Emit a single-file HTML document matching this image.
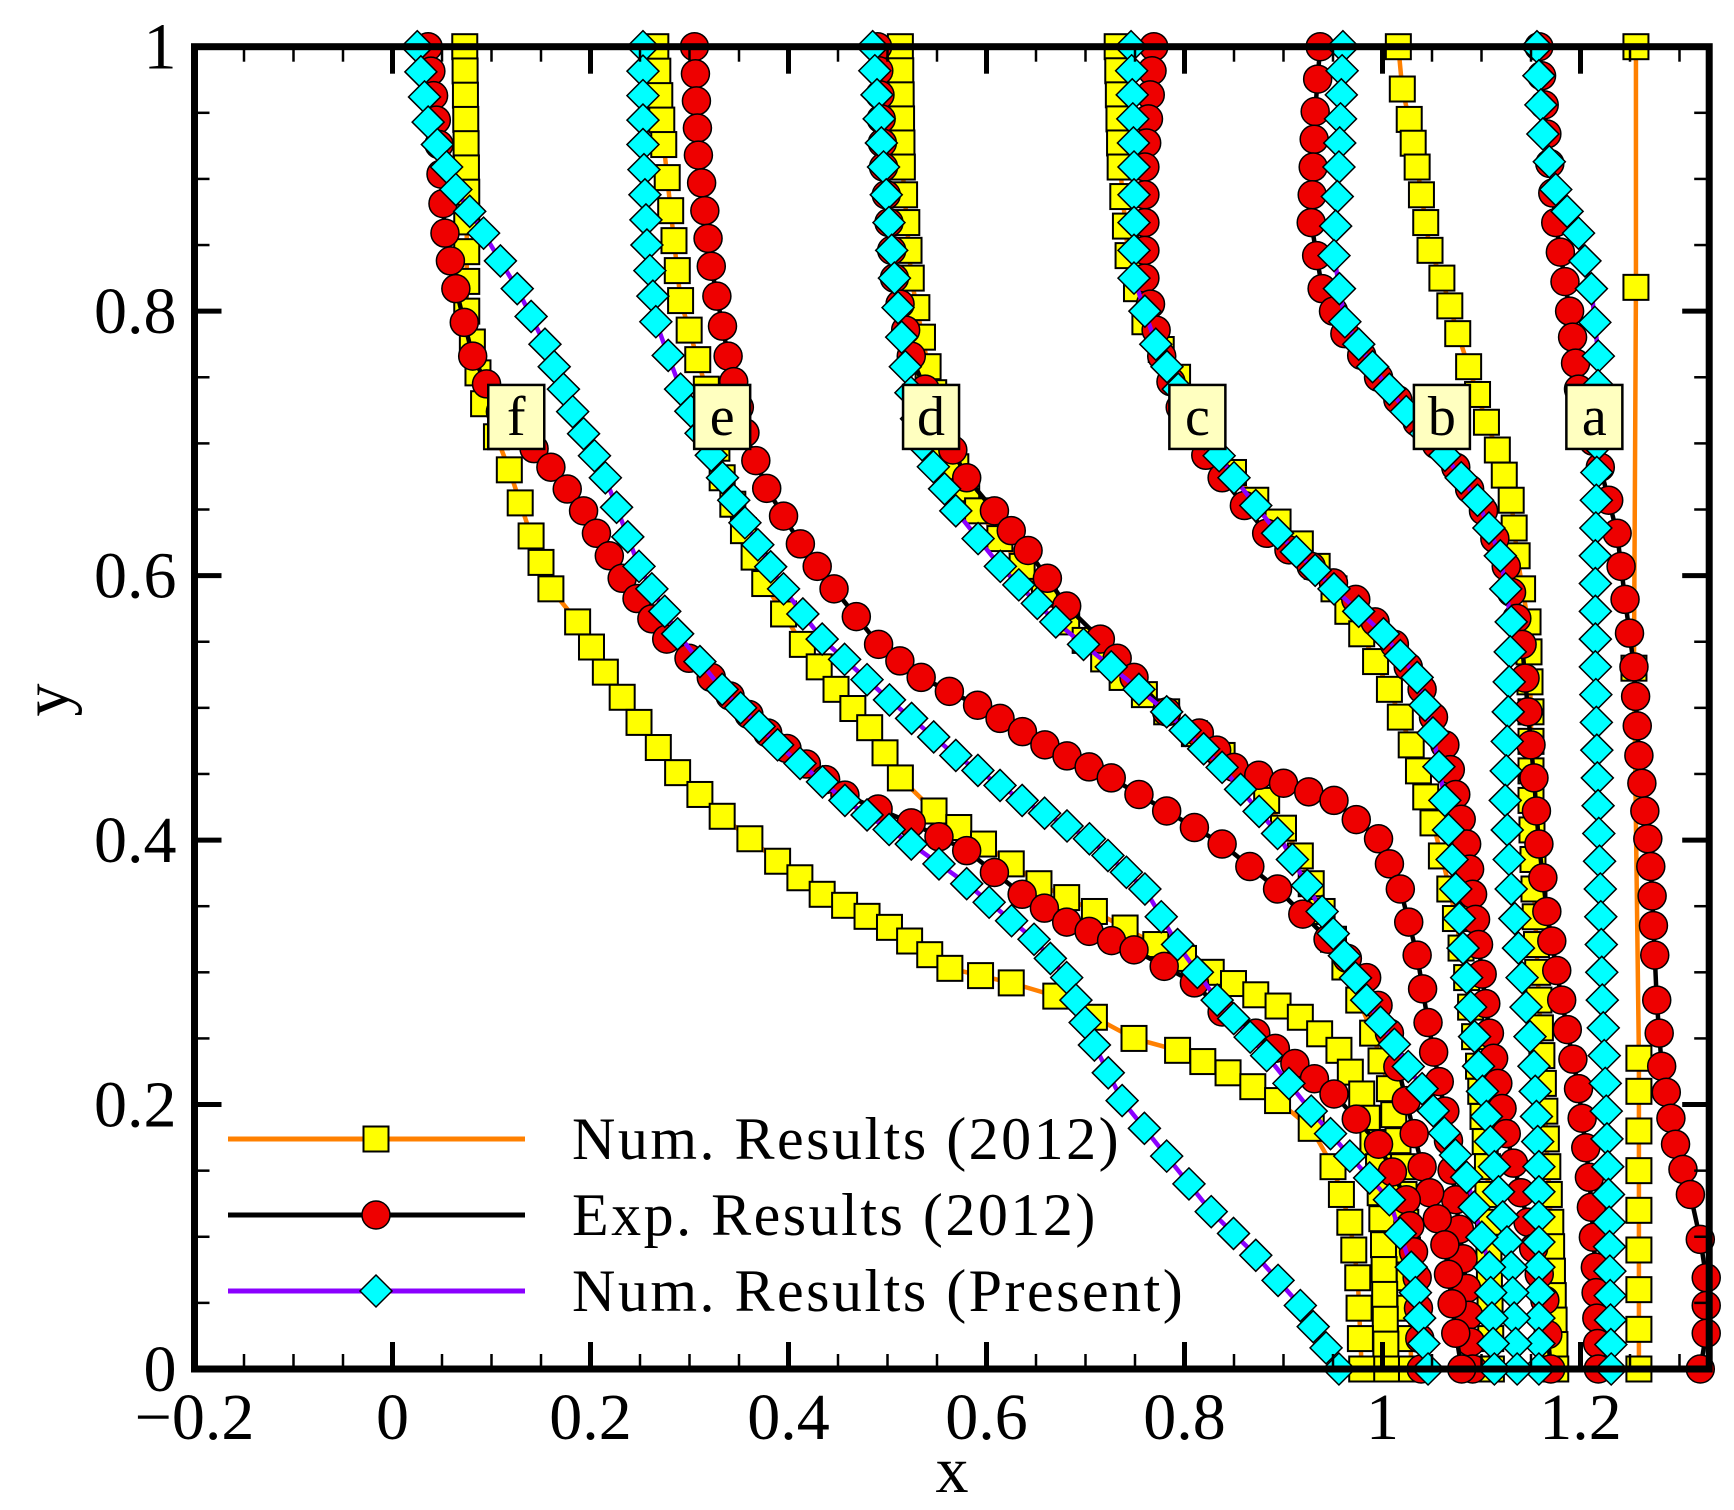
<!DOCTYPE html>
<html><head><meta charset="utf-8"><style>
html,body{margin:0;padding:0;background:#fff;}
svg{display:block;font-family:"Liberation Serif",serif;}
</style></head><body>
<svg id="chart" width="1734" height="1510" viewBox="0 0 1734 1510" xmlns="http://www.w3.org/2000/svg">
<g id="series-layer"></g>
<g id="axes-layer"></g>
<g id="labels-layer"></g>
<g id="legend"></g>
</svg>
<script>
// ---- data (x, y pairs) per profile ----
const profileNames = ["a","b","c","d","e","f"];
const numOld = {
 f:[[0.073,1],[0.075,0.89],[0.075,0.80],[0.092,0.73],[0.118,0.68],[0.14,0.63],[0.16,0.59],[0.187,0.565],[0.215,0.527],[0.249,0.489],[0.288,0.451],[0.333,0.418],[0.389,0.384],[0.434,0.359],[0.502,0.334],[0.563,0.303],[0.625,0.292],[0.67,0.282],[0.709,0.266],[0.749,0.25],[0.793,0.241],[0.844,0.224],[0.894,0.203],[0.928,0.182],[0.95,0.153],[0.967,0.111],[0.975,0.069],[0.979,0]],
 e:[[0.266,1],[0.274,0.926],[0.281,0.876],[0.291,0.808],[0.317,0.741],[0.333,0.674],[0.376,0.594],[0.414,0.548],[0.448,0.514],[0.482,0.485],[0.513,0.447],[0.547,0.422],[0.597,0.397],[0.653,0.367],[0.709,0.346],[0.771,0.321],[0.827,0.3],[0.872,0.283],[0.917,0.266],[0.956,0.241],[0.979,0.208],[0.996,0.153],[1.001,0.094],[1.004,0]],
 d:[[0.513,1],[0.515,0.909],[0.524,0.825],[0.541,0.758],[0.558,0.699],[0.591,0.649],[0.636,0.607],[0.681,0.565],[0.737,0.523],[0.782,0.497],[0.838,0.464],[0.883,0.43],[0.917,0.388],[0.939,0.346],[0.962,0.304],[0.99,0.254],[1.007,0.212],[1.02,0.153],[1.027,0.069],[1.029,0]],
 c:[[0.732,1],[0.735,0.909],[0.743,0.842],[0.76,0.792],[0.793,0.75],[0.827,0.699],[0.872,0.657],[0.917,0.624],[0.951,0.59],[0.979,0.556],[1.007,0.514],[1.029,0.472],[1.051,0.413],[1.068,0.363],[1.085,0.296],[1.097,0.229],[1.106,0.153],[1.108,0.069],[1.11,0]],
 b:[[1.016,1],[1.02,0.968],[1.027,0.945],[1.035,0.909],[1.048,0.846],[1.06,0.825],[1.068,0.804],[1.076,0.783],[1.087,0.758],[1.096,0.737],[1.105,0.716],[1.116,0.695],[1.13,0.657],[1.136,0.615],[1.147,0.565],[1.15,0.497],[1.15,0.43],[1.153,0.363],[1.158,0.279],[1.164,0.195],[1.17,0.111],[1.175,0]],
 a:[[1.256,1],[1.256,0.818],[1.254,0.53],[1.259,0.235],[1.259,0.21],[1.259,0.18],[1.259,0.15],[1.259,0.12],[1.259,0.09],[1.259,0.06],[1.259,0.03],[1.259,0]]
};
const expData = {
 f:[[0.036,1],[0.047,0.926],[0.053,0.859],[0.064,0.817],[0.081,0.766],[0.109,0.724],[0.16,0.682],[0.193,0.649],[0.232,0.598],[0.277,0.552],[0.322,0.523],[0.379,0.481],[0.457,0.434],[0.524,0.413],[0.58,0.392],[0.636,0.359],[0.681,0.338],[0.749,0.317],[0.81,0.292],[0.838,0.27],[0.872,0.254],[0.951,0.208],[0.996,0.17],[1.024,0.128],[1.035,0.069],[1.039,0]],
 e:[[0.305,1],[0.309,0.918],[0.322,0.834],[0.339,0.766],[0.356,0.708],[0.378,0.666],[0.412,0.624],[0.446,0.59],[0.491,0.548],[0.534,0.523],[0.591,0.502],[0.659,0.472],[0.726,0.447],[0.782,0.422],[0.838,0.397],[0.894,0.363],[0.945,0.325],[0.984,0.296],[1.007,0.254],[1.024,0.203],[1.04,0.153],[1.063,0.094],[1.074,0.027],[1.08,0]],
 d:[[0.49,1],[0.496,0.909],[0.507,0.825],[0.524,0.766],[0.552,0.716],[0.58,0.674],[0.608,0.649],[0.642,0.619],[0.681,0.577],[0.715,0.552],[0.749,0.523],[0.782,0.497],[0.815,0.481],[0.85,0.455],[0.9,0.443],[0.951,0.43],[0.996,0.401],[1.018,0.363],[1.035,0.313],[1.046,0.262],[1.063,0.195],[1.074,0.128],[1.085,0.061],[1.091,0]],
 c:[[0.769,1],[0.76,0.909],[0.76,0.825],[0.777,0.766],[0.805,0.708],[0.838,0.674],[0.883,0.632],[0.928,0.607],[0.973,0.582],[1.012,0.548],[1.04,0.514],[1.063,0.472],[1.085,0.397],[1.097,0.321],[1.108,0.254],[1.125,0.178],[1.147,0.111],[1.164,0.052],[1.17,0]],
 b:[[0.937,1],[0.932,0.951],[0.928,0.867],[0.939,0.817],[0.962,0.783],[0.996,0.75],[1.035,0.716],[1.074,0.682],[1.102,0.649],[1.125,0.607],[1.141,0.548],[1.147,0.497],[1.153,0.447],[1.158,0.397],[1.166,0.346],[1.181,0.279],[1.198,0.212],[1.209,0.145],[1.215,0.077],[1.218,0]],
 a:[[1.158,1],[1.166,0.934],[1.175,0.867],[1.189,0.8],[1.198,0.741],[1.22,0.682],[1.237,0.632],[1.245,0.582],[1.254,0.531],[1.259,0.464],[1.271,0.38],[1.275,0.313],[1.277,0.279],[1.282,0.229],[1.296,0.17],[1.311,0.132],[1.321,0.098],[1.327,0.069],[1.327,0.027],[1.321,0]]
};
const numPresent = {
 f:[[0.025,1],[0.036,0.943],[0.064,0.892],[0.092,0.859],[0.126,0.817],[0.154,0.775],[0.182,0.724],[0.215,0.674],[0.249,0.607],[0.288,0.556],[0.333,0.514],[0.389,0.472],[0.457,0.43],[0.524,0.397],[0.58,0.367],[0.648,0.325],[0.681,0.296],[0.709,0.245],[0.737,0.203],[0.782,0.161],[0.827,0.119],[0.872,0.086],[0.917,0.048],[0.956,0]],
 e:[[0.253,1],[0.253,0.926],[0.257,0.85],[0.266,0.792],[0.291,0.741],[0.322,0.691],[0.356,0.64],[0.395,0.59],[0.434,0.552],[0.502,0.506],[0.569,0.464],[0.636,0.43],[0.704,0.401],[0.76,0.363],[0.793,0.321],[0.833,0.279],[0.883,0.237],[0.928,0.195],[0.967,0.161],[1.007,0.128],[1.029,0.077],[1.046,0]],
 d:[[0.485,1],[0.496,0.909],[0.507,0.825],[0.518,0.758],[0.535,0.699],[0.569,0.649],[0.614,0.607],[0.67,0.565],[0.726,0.531],[0.782,0.497],[0.838,0.455],[0.894,0.405],[0.939,0.346],[0.984,0.279],[1.04,0.212],[1.085,0.145],[1.108,0.077],[1.113,0]],
 c:[[0.746,1],[0.749,0.909],[0.749,0.825],[0.771,0.775],[0.805,0.724],[0.85,0.674],[0.894,0.632],[0.951,0.59],[1.001,0.556],[1.035,0.523],[1.051,0.481],[1.063,0.43],[1.074,0.363],[1.085,0.296],[1.097,0.229],[1.113,0.153],[1.13,0.077],[1.136,0]],
 b:[[0.96,1],[0.956,0.909],[0.951,0.842],[0.962,0.792],[0.99,0.758],[1.024,0.724],[1.063,0.691],[1.096,0.657],[1.119,0.615],[1.13,0.565],[1.127,0.497],[1.124,0.43],[1.13,0.363],[1.141,0.296],[1.153,0.229],[1.158,0.153],[1.158,0.077],[1.158,0]],
 a:[[1.156,1],[1.162,0.934],[1.175,0.892],[1.198,0.859],[1.211,0.817],[1.218,0.766],[1.217,0.699],[1.215,0.615],[1.215,0.531],[1.217,0.447],[1.22,0.363],[1.222,0.279],[1.226,0.195],[1.229,0.111],[1.231,0]]
};
const xTicks = [-0.2,0,0.2,0.4,0.6,0.8,1,1.2];
const xTickLabels = ["\u22120.2","0","0.2","0.4","0.6","0.8","1","1.2"];
const yTicks = [0,0.2,0.4,0.6,0.8,1];
const yTickLabels = ["0","0.2","0.4","0.6","0.8","1"];
const labelPos = {f:[0.125,0.72],e:[0.333,0.72],d:[0.544,0.72],c:[0.813,0.72],b:[1.06,0.72],a:[1.214,0.72]};
const legendLabels = ["Num. Results (2012)","Exp. Results (2012)","Num. Results (Present)"];

// ---- scales ----
const X0=392.5, XS=990, XMIN=-0.2, XMAX=1.33;
const Y0=1369, YS=1322.3;
const sx = v => X0 + v*XS;
const sy = v => Y0 - v*YS;
const NS="http://www.w3.org/2000/svg";
function mk(tag, attrs, parent){const e=document.createElementNS(NS,tag);for(const k in attrs)e.setAttribute(k,attrs[k]);if(parent)parent.appendChild(e);return e;}

const seriesLayer=document.getElementById('series-layer');
const styles=[
 {key:'num-2012',data:numOld,line:'#ff8000',fill:'#ffff00',shape:'square'},
 {key:'exp-2012',data:expData,line:'#000000',fill:'#ee0000',shape:'circle'},
 {key:'num-present',data:numPresent,line:'#8a00ff',fill:'#00ffff',shape:'diamond'}
];
function marker(shape,x,y,fill,parent){
  let m;
  if(shape==='square') m=mk('rect',{x:x-12.5,y:y-12.5,width:25,height:25,fill:fill,stroke:'#000','stroke-width':2},parent);
  else if(shape==='circle') m=mk('circle',{cx:x,cy:y,r:14,fill:fill,stroke:'#000','stroke-width':1.5},parent);
  else m=mk('polygon',{points:`${x},${y-16} ${x+16},${y} ${x},${y+16} ${x-16},${y}`,fill:fill,stroke:'#000','stroke-width':1.5},parent);
  return m;
}
styles.forEach(st=>{
  const g=mk('g',{},seriesLayer);
  
  
  profileNames.forEach(p=>{
    const pts=st.data[p];
    const pg=mk('g',{},g);
    
    
    const line=mk('polyline',{points:pts.map(q=>sx(q[0])+','+sy(q[1])).join(' '),fill:'none',stroke:st.line,'stroke-width':4.5,'stroke-linejoin':'round'},pg);
    
    
    const spacing = (p==='a' && st.key==='num-2012') ? 1e9 : 24;
    for(let i=0;i<pts.length;i++){
      const x1=sx(pts[i][0]),y1=sy(pts[i][1]);
      const m=marker(st.shape,x1,y1,st.fill,pg);
      
      
      if(i<pts.length-1){
        const x2=sx(pts[i+1][0]),y2=sy(pts[i+1][1]);
        const d=Math.hypot(x2-x1,y2-y1);const n=Math.floor(d/spacing);
        for(let k=1;k<n;k++){
          const t=k/n;
          const mm=marker(st.shape,x1+(x2-x1)*t,y1+(y2-y1)*t,st.fill,pg);
          
          
        }
      }
    }
  });
});

// ---- axes ----
const ax=document.getElementById('axes-layer');
const L=sx(XMIN), R=sx(XMAX), T=sy(1), B=sy(0);
const frame=mk('rect',{x:L,y:T,width:R-L,height:B-T,fill:'none',stroke:'#000','stroke-width':7},ax);


for(let i=0;i<=30;i++){
  const v=Math.round((XMIN+i*0.05)*1000)/1000; if(v>XMAX) break;
  const major=Math.abs(Math.round(v*10)%2)===0 && Math.abs(v*10-Math.round(v*10))<1e-6;
  const len=major?27:15, w=major?5:2.5, x=sx(v);
  const t1=mk('line',{x1:x,y1:B,x2:x,y2:B-len,stroke:'#000','stroke-width':w},ax);
  
  
  const t2=mk('line',{x1:x,y1:T,x2:x,y2:T+len,stroke:'#000','stroke-width':w},ax);
  
  
}
for(let i=0;i<=20;i++){
  const v=i*0.05, major=(i%4===0);
  const len=major?27:15, w=major?5:2.5, y=sy(v);
  const t1=mk('line',{x1:L,y1:y,x2:L+len,y2:y,stroke:'#000','stroke-width':w},ax);
  
  
  const t2=mk('line',{x1:R,y1:y,x2:R-len,y2:y,stroke:'#000','stroke-width':w},ax);
  
  
}
xTicks.forEach((v,i)=>{
  const t=mk('text',{x:sx(v),y:B+70,'font-size':66,'text-anchor':'middle',fill:'#000'},ax);
  t.textContent=xTickLabels[i];
  
  
});
yTicks.forEach((v,i)=>{
  const t=mk('text',{x:L-18,y:sy(v)+22,'font-size':66,'text-anchor':'end',fill:'#000'},ax);
  t.textContent=yTickLabels[i];
  
  
});
const xt=mk('text',{x:952,y:1492,'font-size':66,'text-anchor':'middle',fill:'#000'},ax);
xt.textContent='x';


const yt=mk('text',{x:0,y:0,'font-size':66,'text-anchor':'middle',fill:'#000',transform:'translate(68,700) rotate(-90)'},ax);
yt.textContent='y';



// ---- profile labels ----
const lab=document.getElementById('labels-layer');
profileNames.forEach(p=>{
  const cx=sx(labelPos[p][0]), cy=sy(labelPos[p][1]);
  const g=mk('g',{},lab);
  
  
  mk('rect',{x:cx-28,y:cy-32,width:56,height:64,fill:'#ffffc0',stroke:'#000','stroke-width':2.5},g);
  const t=mk('text',{x:cx,y:cy+18,'font-size':56,'text-anchor':'middle',fill:'#000'},g);
  t.textContent=p;
});

// ---- legend ----
const lg=document.getElementById('legend');
styles.forEach((st,i)=>{
  const y=1139+i*76;
  const g=mk('g',{},lg);
  
  
  mk('line',{x1:228,y1:y,x2:525,y2:y,stroke:st.line,'stroke-width':5},g);
  marker(st.shape,376,y,st.fill,g);
  const t=mk('text',{x:572,y:y+20,'font-size':60,fill:'#000','letter-spacing':'2.5'},g);
  t.textContent=legendLabels[i];
});
</script>
</body></html>
